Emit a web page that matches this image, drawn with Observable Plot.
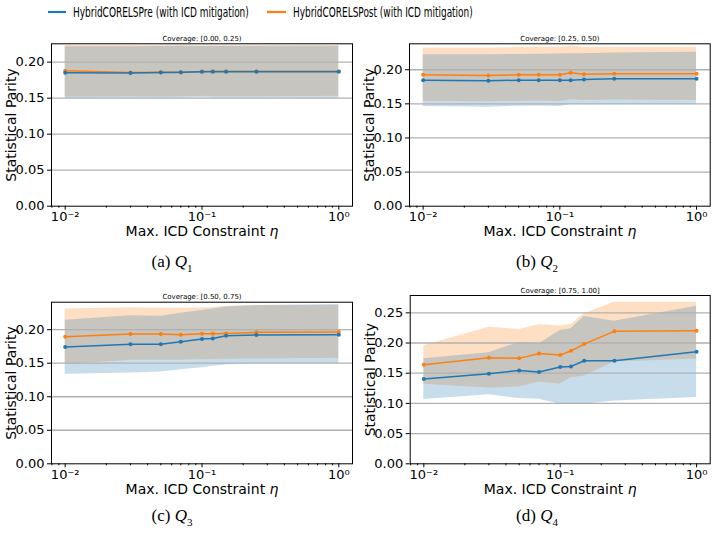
<!DOCTYPE html>
<html><head><meta charset="utf-8">
<script src="https://cdn.jsdelivr.net/npm/d3@7"></script>
<script src="https://cdn.jsdelivr.net/npm/@observablehq/plot@0.6"></script>
<style>
body{margin:0;background:#fff;}
#root{position:relative;width:717px;height:535px;overflow:hidden;font-family:"DejaVu Sans",sans-serif;background:#fff;}
.panel{position:absolute;}
.cap{position:absolute;font-family:"Liberation Serif",serif;font-size:17px;transform:translate(-50%,-50%);white-space:nowrap;color:#000;}
#legend{position:absolute;left:0;top:0;}
</style></head><body><div id="root"></div>
<script>
// ---------- data ----------
const eta = [0.01, 0.03, 0.05, 0.07, 0.1, 0.12, 0.15, 0.25, 1.0];
const seriesNames = ["HybridCORELSPre (with ICD mitigation)", "HybridCORELSPost (with ICD mitigation)"];
const seriesColors = ["#1f77b4", "#ff7f0e"];
const coverageTitles = ["Coverage: [0.00, 0.25)", "Coverage: [0.25, 0.50)", "Coverage: [0.50, 0.75)", "Coverage: [0.75, 1.00]"];
const captionLetters = ["a", "b", "c", "d"];
const xTickValues = [0.01, 0.1, 1];
const xTickLabels = ["10\u207B\u00B2", "10\u207B\u00B9", "10\u2070"];
const yTicksLow = [0, 0.05, 0.10, 0.15, 0.20];
const yTicksHigh = [0, 0.05, 0.10, 0.15, 0.20, 0.25];

// Q1
const q1PreMean  = [0.1852, 0.1850, 0.1855, 0.1860, 0.1866, 0.1866, 0.1866, 0.1866, 0.1866];
const q1PreLow   = [0.1495, 0.1500, 0.1500, 0.1500, 0.1505, 0.1500, 0.1500, 0.1500, 0.1500];
const q1PreHigh  = [0.2215, 0.2215, 0.2220, 0.2220, 0.2220, 0.2220, 0.2220, 0.2220, 0.2220];
const q1PostMean = [0.1880, 0.1855, 0.1860, 0.1855, 0.1870, 0.1875, 0.1875, 0.1875, 0.1875];
const q1PostLow  = [0.1515, 0.1520, 0.1515, 0.1520, 0.1525, 0.1520, 0.1520, 0.1520, 0.1525];
const q1PostHigh = [0.2232, 0.2230, 0.2228, 0.2230, 0.2225, 0.2228, 0.2228, 0.2228, 0.2230];
// Q2
const q2PreMean  = [0.1847, 0.1838, 0.1847, 0.1847, 0.1847, 0.1847, 0.1857, 0.1867, 0.1867];
const q2PreLow   = [0.1460, 0.1450, 0.1465, 0.1470, 0.1460, 0.1490, 0.1485, 0.1490, 0.1490];
const q2PreHigh  = [0.2220, 0.2220, 0.2225, 0.2228, 0.2230, 0.2235, 0.2235, 0.2245, 0.2258];
const q2PostMean = [0.1926, 0.1916, 0.1926, 0.1926, 0.1926, 0.1955, 0.1935, 0.1940, 0.1940];
const q2PostLow  = [0.1535, 0.1530, 0.1535, 0.1540, 0.1535, 0.1560, 0.1550, 0.1555, 0.1550];
const q2PostHigh = [0.2317, 0.2320, 0.2325, 0.2330, 0.2325, 0.2346, 0.2330, 0.2330, 0.2330];
// Q3
const q3PreMean  = [0.1742, 0.1782, 0.1782, 0.1821, 0.1861, 0.1868, 0.1910, 0.1920, 0.1926];
const q3PreLow   = [0.1335, 0.1355, 0.1370, 0.1404, 0.1434, 0.1454, 0.1474, 0.1494, 0.1494];
const q3PreHigh  = [0.2139, 0.2208, 0.2199, 0.2244, 0.2288, 0.2310, 0.2337, 0.2360, 0.2377];
const q3PostMean = [0.1896, 0.1935, 0.1935, 0.1926, 0.1940, 0.1940, 0.1945, 0.1960, 0.1965];
const q3PostLow  = [0.1480, 0.1543, 0.1543, 0.1543, 0.1553, 0.1555, 0.1560, 0.1563, 0.1573];
const q3PostHigh = [0.2308, 0.2328, 0.2318, 0.2320, 0.2325, 0.2330, 0.2350, 0.2360, 0.2360];
// Q4
const q4PreMean  = [0.1404, 0.1492, 0.1547, 0.1520, 0.1602, 0.1613, 0.1707, 0.1707, 0.1856];
const q4PreLow   = [0.1063, 0.1145, 0.1080, 0.1068, 0.0986, 0.0986, 0.0986, 0.1040, 0.1096];
const q4PreHigh  = [0.1740, 0.1840, 0.2010, 0.1988, 0.2208, 0.2236, 0.2440, 0.2362, 0.2610];
const q4PostMean = [0.1641, 0.1757, 0.1746, 0.1828, 0.1800, 0.1872, 0.1982, 0.2197, 0.2203];
const q4PostLow  = [0.1316, 0.1256, 0.1272, 0.1355, 0.1316, 0.1426, 0.1454, 0.1685, 0.1735];
const q4PostHigh = [0.1955, 0.2263, 0.2225, 0.2302, 0.2280, 0.2307, 0.2483, 0.2676, 0.2676];

const panelData = [
  [q1PreMean, q1PreLow, q1PreHigh, q1PostMean, q1PostLow, q1PostHigh],
  [q2PreMean, q2PreLow, q2PreHigh, q2PostMean, q2PostLow, q2PostHigh],
  [q3PreMean, q3PreLow, q3PreHigh, q3PostMean, q3PostLow, q3PostHigh],
  [q4PreMean, q4PreLow, q4PreHigh, q4PostMean, q4PostLow, q4PostHigh]
];
const yMax = [0.2255, 0.238, 0.241, 0.2787];
const yTicksPerPanel = [yTicksLow, yTicksLow, yTicksLow, yTicksHigh];

// ---------- layout ----------
const layout = [
  {left: 0,   top: 30,  w: 358, h: 212, ml: 51, mr: 6,   mt: 13.3, bottom: 205.7},
  {left: 358, top: 30,  w: 359, h: 212, ml: 51, mr: 7.3, mt: 13.3, bottom: 205.7},
  {left: 0,   top: 280, w: 358, h: 212, ml: 51, mr: 6,   mt: 21.7, bottom: 463.3},
  {left: 358, top: 280, w: 359, h: 212, ml: 51.7, mr: 7.3, mt: 15,   bottom: 463.3}
];
const captionPos = [[172, 263], [537, 263], [172, 517], [537, 517]];

const root = document.getElementById("root");
const NS = "http://www.w3.org/2000/svg";

// legend (SVG; text horizontally compressed to the reference widths)
const legSwatch = [[48, 66], [267, 286]];
const legText = [[73, 176], [293, 180]];
const legSvg = document.createElementNS(NS, "svg");
legSvg.setAttribute("id", "legend");
legSvg.setAttribute("width", "717");
legSvg.setAttribute("height", "26");
root.appendChild(legSvg);
seriesNames.forEach((name, i) => {
  const ln = document.createElementNS(NS, "line");
  ln.setAttribute("x1", legSwatch[i][0]); ln.setAttribute("x2", legSwatch[i][1]);
  ln.setAttribute("y1", 12); ln.setAttribute("y2", 12);
  ln.setAttribute("stroke", seriesColors[i]); ln.setAttribute("stroke-width", 2.2);
  legSvg.appendChild(ln);
  const g = document.createElementNS(NS, "g");
  legSvg.appendChild(g);
  const tx = document.createElementNS(NS, "text");
  tx.setAttribute("x", 0); tx.setAttribute("y", 0);
  tx.setAttribute("dy", "0.35em");
  tx.setAttribute("font-size", 13.5);
  tx.setAttribute("font-family", "DejaVu Sans");
  tx.textContent = name;
  g.appendChild(tx);
  const natural = tx.getComputedTextLength() || 260;
  const s = legText[i][1] / natural;
  g.setAttribute("transform", `translate(${legText[i][0]},12) scale(${s.toFixed(4)},1)`);
});

const minorTicks = [];
for (const dec of [0.001, 0.01, 0.1]) for (let k = 2; k <= 9; k++) {
  const v = +(k * dec).toPrecision(3);
  if (v > Math.pow(10, -2.1) && v < Math.pow(10, 0.1)) minorTicks.push(v);
}

panelData.forEach((arr, p) => {
  const [preM, preL, preH, postM, postL, postH] = arr;
  const rows = eta.map((e, i) => ({eta: e, preM: preM[i], preL: preL[i], preH: preH[i], postM: postM[i], postL: postL[i], postH: postH[i]}));
  const L = layout[p];
  const mb = (L.top + L.h) - L.bottom;
  const chart = Plot.plot({
    width: L.w, height: L.h,
    marginLeft: L.ml, marginRight: L.mr, marginTop: L.mt, marginBottom: mb,
    style: {fontFamily: "DejaVu Sans", fontSize: "13px", background: "transparent", color: "#000", overflow: "visible"},
    x: {type: "log", domain: [Math.pow(10, -2.1), Math.pow(10, 0.1)]},
    y: {domain: [0, yMax[p]]},
    marks: [
      Plot.areaY(rows, {x: "eta", y1: "postL", y2: "postH", fill: seriesColors[1], fillOpacity: 0.25}),
      Plot.areaY(rows, {x: "eta", y1: "preL", y2: "preH", fill: seriesColors[0], fillOpacity: 0.25}),
      Plot.gridY(yTicksPerPanel[p].filter(t => t > 0), {stroke: "#b0b0b0", strokeOpacity: 1, strokeWidth: 1.3}),
      Plot.lineY(rows, {x: "eta", y: "postM", stroke: seriesColors[1], strokeWidth: 1.5}),
      Plot.dot(rows, {x: "eta", y: "postM", fill: seriesColors[1], r: 2}),
      Plot.lineY(rows, {x: "eta", y: "preM", stroke: seriesColors[0], strokeWidth: 1.5}),
      Plot.dot(rows, {x: "eta", y: "preM", fill: seriesColors[0], r: 2}),
      Plot.axisY({ticks: yTicksPerPanel[p], tickFormat: d3.format(".2f"), tickSize: 4, tickPadding: 3,
        label: "Statistical Parity", labelAnchor: "center", labelArrow: "none", labelOffset: 45}),
      Plot.axisX(minorTicks, {tickSize: 2, tickFormat: () => "", label: null}),
      Plot.axisX({ticks: xTickValues, tickFormat: (d) => xTickLabels[xTickValues.indexOf(d)], tickSize: 4, tickPadding: 2,
        label: "Max. ICD Constraint η", labelAnchor: "center", labelArrow: "none", labelOffset: 30}),
      Plot.frame({stroke: "#000", strokeWidth: 1}),
      Plot.text([coverageTitles[p]], {frameAnchor: "top", text: d => d, dy: -3, lineAnchor: "bottom", fontSize: 7})
    ]
  });
  chart.classList.add("panel");
  chart.style.left = L.left + "px";
  chart.style.top = L.top + "px";
  chart.querySelectorAll('g[aria-label="x-axis label"] text, g[aria-label="y-axis label"] text').forEach(t => {
    t.setAttribute("font-size", "14");
    t.style.fontSize = "14px";
  });
  chart.querySelectorAll('g[aria-label="x-axis label"] text').forEach(t => {
    const s = t.textContent;
    if (s.endsWith("η")) {
      t.textContent = "";
      const a = document.createElementNS(NS, "tspan");
      a.textContent = s.slice(0, -1);
      const b = document.createElementNS(NS, "tspan");
      b.textContent = "η";
      b.setAttribute("font-style", "italic");
      t.appendChild(a); t.appendChild(b);
    }
  });
  root.appendChild(chart);

  const c = document.createElement("div");
  c.className = "cap";
  c.style.left = captionPos[p][0] + "px";
  c.style.top = captionPos[p][1] + "px";
  c.innerHTML = `(${captionLetters[p]}) <i>Q</i><sub style="font-size:11px">${p + 1}</sub>`;
  root.appendChild(c);
});
</script></body></html>
